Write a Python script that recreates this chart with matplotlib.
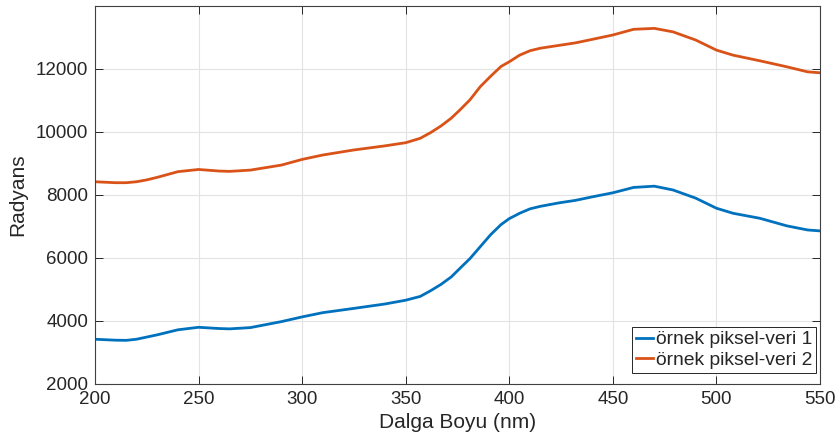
import matplotlib.pyplot as plt

plt.rcParams['font.family'] = ['Liberation Sans', 'DejaVu Sans']

# wavelength (nm)
dalga_boyu = [200, 210, 215, 220, 225, 230, 240, 250, 260, 265, 275, 290, 300,
              310, 325, 340, 350, 357, 362, 367, 372, 376, 381, 386, 391, 396, 400,
              405, 410, 415, 424, 432, 440, 450, 460, 470, 479, 490, 500, 508, 521,
              534, 544, 550]
veri_1 = [3420, 3390, 3385, 3420, 3490, 3560, 3720, 3800, 3760, 3750, 3790, 3980, 4130,
          4265, 4400, 4540, 4660, 4780, 4960, 5160, 5400, 5660, 5980, 6360, 6740, 7060, 7250,
          7420, 7560, 7640, 7750, 7830, 7940, 8070, 8240, 8280, 8160, 7900, 7580, 7420, 7260,
          7020, 6890, 6860]
veri_2 = [8420, 8390, 8390, 8420, 8480, 8560, 8740, 8810, 8760, 8750, 8790, 8950, 9130,
          9270, 9430, 9560, 9660, 9800, 9980, 10190, 10440, 10690, 11020, 11440, 11770, 12080, 12230,
          12440, 12580, 12660, 12750, 12830, 12940, 13080, 13260, 13290, 13180, 12920, 12600, 12440, 12260,
          12070, 11910, 11880]
etiketler = ['örnek piksel-veri 1', 'örnek piksel-veri 2']

koyu = '#262626'
fig = plt.figure(figsize=(8.38, 4.48), dpi=100)
ax = fig.add_axes([0.1134, 0.1429, 0.8651, 0.8437])

ax.plot(dalga_boyu, veri_1, color='#0072BD', lw=2.0, label=etiketler[0])
ax.plot(dalga_boyu, veri_2, color='#D95319', lw=2.0, label=etiketler[1])

ax.set_xlim(200, 550)
ax.set_ylim(2000, 14000)
ax.set_xticks(range(200, 551, 50))
ax.set_yticks(range(2000, 12001, 2000))
ax.grid(True, color='#e3e3e3', lw=0.8)
ax.tick_params(direction='in', length=6, width=0.7, top=True, right=True,
               labelsize=13.5, colors=koyu, pad=5)
for s in ax.spines.values():
    s.set_color('#404040')
    s.set_linewidth(0.8)

ax.set_xlabel('Dalga Boyu (nm)', fontsize=15, color=koyu, labelpad=4)
ax.set_ylabel('Radyans', fontsize=15, color=koyu, labelpad=6)

leg = ax.legend(loc='lower right', bbox_to_anchor=(0.995, 0.03), fontsize=13.9,
                handlelength=0.9, handletextpad=0.15, borderpad=0.2,
                labelspacing=0.15, fancybox=False, framealpha=1,
                borderaxespad=0)
leg.get_frame().set_edgecolor(koyu)
leg.get_frame().set_linewidth(0.7)
for t in leg.get_texts():
    t.set_color(koyu)

fig.savefig('out.png', dpi=100)
